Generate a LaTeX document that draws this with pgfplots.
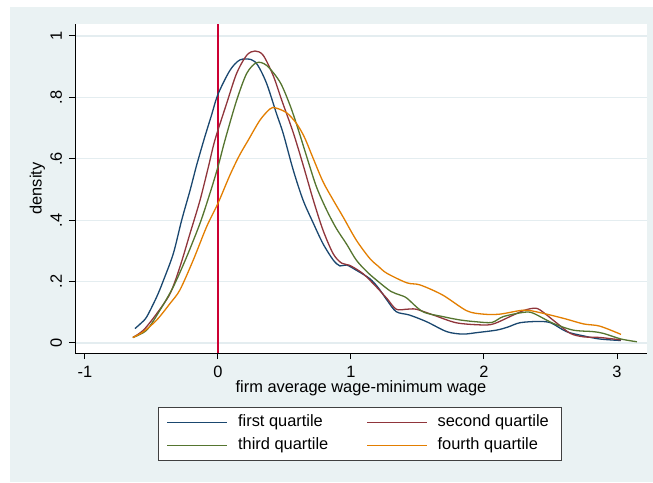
\documentclass[border=0pt]{standalone}
\usepackage{fontspec}
\setmainfont{Liberation Sans}
\usepackage{pgfplots}
\pgfplotsset{compat=1.18}
\definecolor{bgc}{RGB}{234,242,243}
\definecolor{gridc}{RGB}{228,237,240}
\definecolor{snavy}{RGB}{26,71,111}
\definecolor{smaroon}{RGB}{144,53,59}
\definecolor{sgreen}{RGB}{85,117,47}
\definecolor{sorange}{RGB}{227,126,0}
\definecolor{xred}{RGB}{204,0,51}
\newcommand{\fs}{\fontsize{8.2}{9.8}\selectfont}
\begin{document}
\begin{tikzpicture}
\path[use as bounding box] (0,0) rectangle (326.5pt,241pt);
\fill[bgc] (5pt,0pt) rectangle (326.5pt,237.5pt);
\begin{axis}[
  at={(37.5pt,64.5pt)}, anchor=south west,
  scale only axis, width=286pt, height=164.5pt,
  xmin=-1.075, xmax=3.2256, ymin=-0.0326, ymax=1.039,
  axis background/.style={fill=white},
  axis x line*=bottom, axis y line*=left,
  axis line style={black, line width=0.5pt},
  tick align=outside, major tick length=3pt,
  tick style={black, line width=0.5pt},
  xtick={-1,0,1,2,3}, xticklabels={-1,0,1,2,3},
  ytick={0,0.2,0.4,0.6,0.8,1}, yticklabels={0,.2,.4,.6,.8,1},
  yticklabel style={rotate=90, anchor=south},
  tick label style={font=\fs},
  ymajorgrids, grid style={gridc, line width=0.6pt},
  xlabel={firm average wage-minimum wage},
  ylabel={density},
  x label style={at={(axis description cs:0.5,-0.1064)}, anchor=center, font=\fs},
  y label style={at={(axis description cs:-0.0656,0.5)}, anchor=center, rotate=0, font=\fs},
  legend columns=2,
  legend cell align=left,
  legend image code/.code={\draw[#1] (0pt,0pt) -- (30pt,0pt); \path (33pt,0pt);},
  legend style={at={(axis description cs:0.498,-0.246)}, anchor=center,
    draw=black!75, fill=white, font=\fs,
    /tikz/every even column/.append style={column sep=17pt},
    inner xsep=4pt, inner ysep=2pt, row sep=0pt},
  every axis plot/.append style={line width=0.65pt},
]
\addplot[xred, line width=0.6pt, forget plot] coordinates {(0,-0.0326) (0,1.039)};
\addplot[snavy, smooth] coordinates {
(-0.624,0.047) (-0.58,0.064) (-0.536,0.085) (-0.461,0.15) (-0.41,0.204)
(-0.336,0.291) (-0.273,0.40) (-0.21,0.497) (-0.16,0.58)
(-0.10,0.67) (-0.05,0.74) (0,0.81) (0.09,0.888) (0.165,0.922)
(0.25,0.923) (0.30,0.904) (0.366,0.845) (0.44,0.747) (0.49,0.683)
(0.566,0.563) (0.64,0.465) (0.717,0.39) (0.79,0.323) (0.867,0.27)
(0.917,0.251) (0.967,0.254) (1.04,0.237) (1.14,0.21) (1.205,0.18)
(1.27,0.14) (1.34,0.102) (1.44,0.091) (1.57,0.069) (1.72,0.037)
(1.84,0.029) (1.95,0.034) (2.095,0.042) (2.18,0.052) (2.27,0.066)
(2.40,0.070) (2.50,0.066) (2.62,0.037) (2.75,0.023) (2.87,0.013) (3.03,0.008)};
\addlegendentry{first quartile}
\addplot[smaroon, smooth] coordinates {
(-0.64,0.018) (-0.56,0.042) (-0.46,0.096) (-0.36,0.161) (-0.286,0.248)
(-0.21,0.357) (-0.135,0.465) (-0.073,0.572) (-0.023,0.661) (0.065,0.78)
(0.14,0.878) (0.216,0.937) (0.278,0.951) (0.34,0.937) (0.416,0.87)
(0.48,0.79) (0.566,0.685) (0.64,0.58) (0.717,0.465) (0.79,0.367)
(0.867,0.29) (0.93,0.26) (0.99,0.253) (1.09,0.226) (1.19,0.183)
(1.27,0.145) (1.34,0.11) (1.42,0.11) (1.49,0.11) (1.62,0.091)
(1.79,0.066) (1.97,0.059) (2.07,0.062) (2.22,0.091) (2.30,0.106)
(2.37,0.113) (2.42,0.108) (2.55,0.064) (2.65,0.031) (2.75,0.02)
(2.87,0.018) (3.03,0.01)};
\addlegendentry{second quartile}
\addplot[sgreen, smooth] coordinates {
(-0.64,0.018) (-0.536,0.042) (-0.436,0.107) (-0.336,0.183) (-0.235,0.281)
(-0.135,0.39) (-0.06,0.488) (0,0.574) (0.053,0.661) (0.14,0.79)
(0.216,0.878) (0.29,0.913) (0.366,0.904) (0.466,0.85) (0.541,0.775)
(0.60,0.70) (0.667,0.607) (0.74,0.509) (0.817,0.433) (0.89,0.373)
(0.967,0.322) (1.04,0.27) (1.12,0.232) (1.205,0.2) (1.30,0.168)
(1.37,0.156) (1.42,0.146) (1.54,0.102) (1.69,0.086) (1.82,0.075)
(1.945,0.069) (2.06,0.067) (2.145,0.086) (2.30,0.10) (2.37,0.097)
(2.52,0.064) (2.67,0.042) (2.82,0.037) (2.90,0.031) (3.03,0.013) (3.15,0.004)};
\addlegendentry{third quartile}
\addplot[sorange, smooth] coordinates {
(-0.64,0.018) (-0.56,0.037) (-0.46,0.075) (-0.36,0.129) (-0.286,0.173)
(-0.186,0.27) (-0.085,0.379) (0,0.455) (0.09,0.547) (0.16,0.61)
(0.228,0.661) (0.316,0.726) (0.39,0.762) (0.43,0.766) (0.516,0.75)
(0.59,0.715) (0.65,0.67) (0.717,0.60) (0.79,0.525) (0.867,0.465)
(0.94,0.411) (1.04,0.335) (1.14,0.276) (1.205,0.25) (1.27,0.227)
(1.42,0.196) (1.52,0.189) (1.69,0.156) (1.87,0.105) (1.995,0.094)
(2.12,0.094) (2.30,0.107) (2.42,0.099) (2.60,0.08) (2.75,0.062)
(2.87,0.055) (3.03,0.028)};
\addlegendentry{fourth quartile}
\end{axis}
\end{tikzpicture}
\end{document}
